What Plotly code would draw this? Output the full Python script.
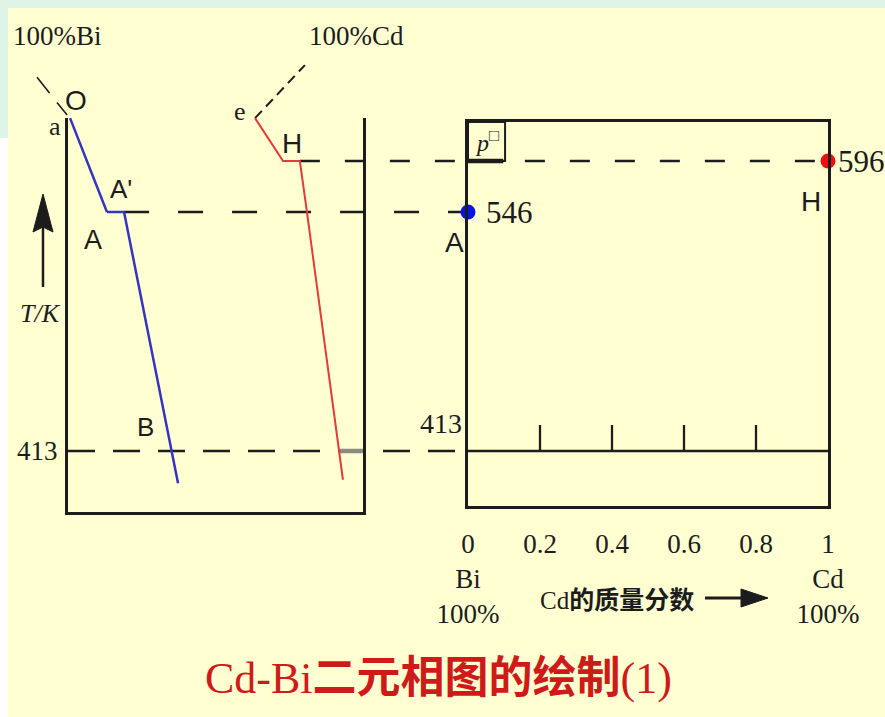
import plotly.graph_objects as go

W, H = 885, 717

# ---------------- data ----------------
T_EUTECTIC = 413          # K
T_MELT_BI = 546           # K
T_MELT_CD = 596           # K

# cooling curve of pure Bi (schematic time units)
bi_time = [0.07, 1.32, 1.90, 3.73]
bi_temp = [638, 546, 546, 395]
# cooling curve of pure Cd
cd_time = [6.34, 7.29, 7.86, 8.10, 9.32]
cd_temp = [638, 596, 596, 546, 397]

# leader lines of the "100%Bi" / "100%Cd" labels
bi_ptr_time = [-1.05, -0.03]
bi_ptr_temp = [678, 641]
cd_ptr_time = [6.34, 8.03]
cd_ptr_temp = [638, 690]

# grey piece of the Cd curve on the eutectic line
grey_time = [9.19, 10.0]

# phase diagram
comp_ticks = [0, 0.2, 0.4, 0.6, 0.8, 1]
comp_tick_labels = ["0<br>Bi<br>100%", "0.2", "0.4", "0.6", "0.8", "1<br>Cd<br>100%"]
inner_ticks = [0.2, 0.4, 0.6, 0.8]
melt_comp = [0, 1]
melt_temp = [T_MELT_BI, T_MELT_CD]
pbox_comp = 0.103

# ---------------- geometry / styles ----------------
TIME_PX0, PX_PER_TIME = 68, 29.5
COMP_PX = (468, 828)
LOWER_ANCH = ((413, 451), (546, 212))   # (T, pixel row) schematic scale below 546 K
UPPER_ANCH = ((546, 212), (596, 161))   # schematic scale above 546 K
LEFT_BOX = (68, 363, 118, 512)
RIGHT_BOX = (468, 828, 122, 506)

SERIF = "Liberation Serif, 'Noto Sans CJK SC', serif"
SANS = "Liberation Sans, Arial, sans-serif"
INK = "#1c1c1c"
BLUE = "#3434c0"
RED = "#e03c3c"
BG = "#ffffd2"
TEAL = "#ddf4e6"


def px_to_time(px):
    return (px - TIME_PX0) / PX_PER_TIME


def comp_to_px(c):
    return COMP_PX[0] + c * (COMP_PX[1] - COMP_PX[0])


def make_T(anch):
    (t0, p0), (t1, p1) = anch
    return lambda py: t0 + (py - p0) * (t1 - t0) / (p1 - p0)


lower_T = make_T(LOWER_ANCH)
upper_T = make_T(UPPER_ANCH)


def pxx(x):
    return x / W


def pxy(y):
    return 1 - y / H


fig = go.Figure()


def line(x, y, xa, ya, color=INK, width=2.5, dash="solid"):
    fig.add_trace(go.Scatter(x=x, y=y, xaxis=xa, yaxis=ya, mode="lines",
                             line=dict(color=color, width=width, dash=dash),
                             hoverinfo="skip", showlegend=False))


# empty helper traces so that the two frame subplots are created
for xa, ya in (("x3", "y3"), ("x5", "y5")):
    fig.add_trace(go.Scatter(x=[0.5], y=[0.5], xaxis=xa, yaxis=ya, mode="markers",
                             marker=dict(opacity=0, size=1), hoverinfo="skip",
                             showlegend=False))

# projection (dashed) lines
t_comp0 = px_to_time(comp_to_px(0))
t_comp1 = px_to_time(comp_to_px(1))
line([0, t_comp0 - 0.1], [T_EUTECTIC, T_EUTECTIC], "x", "y", dash="27px,18px")
line([bi_time[2], t_comp0], [T_MELT_BI, T_MELT_BI], "x", "y", dash="25px,29px")
line([cd_time[2], t_comp1], [T_MELT_CD, T_MELT_CD], "x", "y2", dash="20px,25px")
line(grey_time, [T_EUTECTIC, T_EUTECTIC], "x", "y", color="#8a8a80", width=4.5)

# leader lines
line(bi_ptr_time, bi_ptr_temp, "x", "y2", width=1.6, dash="20px,12px")
line(cd_ptr_time, cd_ptr_temp, "x", "y2", width=2, dash="10px,6px")

# cooling curves (split at 546 K between the two schematic scales)
ib = bi_temp.index(T_MELT_BI)
line(bi_time[:ib + 1], bi_temp[:ib + 1], "x", "y2", color=BLUE, width=2.5)
line(bi_time[ib:], bi_temp[ib:], "x", "y", color=BLUE, width=2.5)
ic = cd_temp.index(T_MELT_BI)
line(cd_time[:ic + 1], cd_temp[:ic + 1], "x2", "y2", color=RED, width=2)
line(cd_time[ic:], cd_temp[ic:], "x2", "y", color=RED, width=2)

# eutectic line with ticks in the phase diagram
tick_len = 26 * (LOWER_ANCH[1][0] - LOWER_ANCH[0][0]) / (LOWER_ANCH[0][1] - LOWER_ANCH[1][1])
tx, ty = [0, 1, None], [T_EUTECTIC, T_EUTECTIC, None]
for c in inner_ticks:
    tx += [c, c, None]
    ty += [T_EUTECTIC, T_EUTECTIC + tick_len, None]
line(tx, ty, "x3", "y", width=2.3)

# melting points
fig.add_trace(go.Scatter(x=melt_comp[:1], y=melt_temp[:1], xaxis="x3", yaxis="y",
                         mode="markers", cliponaxis=False,
                         marker=dict(color="#0a14e6", size=15), showlegend=False))
fig.add_trace(go.Scatter(x=melt_comp[1:], y=melt_temp[1:], xaxis="x3", yaxis="y2",
                         mode="markers", cliponaxis=False,
                         marker=dict(color="#ee1010", size=15), showlegend=False))

hidden = dict(visible=False, fixedrange=True)
frame = dict(showline=True, linecolor=INK, linewidth=2.5, showgrid=False,
             zeroline=False, ticks="", fixedrange=True, automargin=False)

fig.update_layout(
    width=W, height=H, autosize=False,
    margin=dict(l=0, r=0, t=0, b=0, pad=0, autoexpand=False),
    paper_bgcolor=BG, plot_bgcolor="rgba(0,0,0,0)",
    showlegend=False,
    xaxis=dict(domain=[0, 1], range=[px_to_time(0), px_to_time(W)], anchor="y", **hidden),
    xaxis2=dict(domain=[0, 1], range=[px_to_time(0), px_to_time(W)], anchor="y", **hidden),
    yaxis=dict(domain=[0, pxy(190)], range=[lower_T(H), lower_T(190)], anchor="x", **hidden),
    yaxis2=dict(domain=[pxy(232), 1], range=[upper_T(232), upper_T(0)], anchor="x", **hidden),
    # right box = phase diagram frame, composition axis
    xaxis3=dict(domain=[pxx(RIGHT_BOX[0]), pxx(RIGHT_BOX[1])], range=[0, 1], anchor="y3",
                mirror=True, tickvals=comp_ticks, ticktext=comp_tick_labels,
                ticklabelstandoff=12,
                tickfont=dict(family=SERIF, size=27, color=INK), **frame),
    yaxis3=dict(domain=[pxy(RIGHT_BOX[3]), pxy(RIGHT_BOX[2])], range=[0, 1], anchor="x3",
                mirror=True, showticklabels=False, **frame),
    # left box = cooling-curve frame (no top line)
    xaxis5=dict(domain=[pxx(LEFT_BOX[0]), pxx(LEFT_BOX[1])], range=[0, 1], anchor="y5",
                mirror=False, showticklabels=False, **frame),
    yaxis5=dict(domain=[pxy(LEFT_BOX[3]), pxy(LEFT_BOX[2])], range=[0, 1], anchor="x5",
                mirror=True, showticklabels=False, **frame),
)

shapes = [
    dict(type="rect", xref="paper", yref="paper", x0=0, x1=1, y0=pxy(8), y1=1,
         fillcolor=TEAL, line=dict(width=0), layer="below"),
    dict(type="rect", xref="paper", yref="paper", x0=0, x1=pxx(8), y0=pxy(138), y1=1,
         fillcolor=TEAL, line=dict(width=0), layer="below"),
    dict(type="rect", xref="paper", yref="paper", x0=0, x1=pxx(8), y0=0, y1=pxy(138),
         fillcolor="#ffffff", line=dict(width=0), layer="below"),
    # p box in the corner of the phase diagram
    dict(type="rect", xref="x3", yref="y2", x0=0, x1=pbox_comp, y0=T_MELT_CD,
         y1=upper_T(RIGHT_BOX[2]), line=dict(color=INK, width=2)),
    dict(type="line", xref="x3", yref="y2", x0=0, x1=pbox_comp - 0.005, y0=T_MELT_CD,
         y1=T_MELT_CD, line=dict(color=INK, width=4.5)),
    # T/K arrow
    dict(type="line", xref="paper", yref="paper", x0=pxx(43), x1=pxx(43), y0=pxy(287),
         y1=pxy(226), line=dict(color=INK, width=2.5)),
    dict(type="path", xref="paper", yref="paper",
         path=f"M{pxx(43)},{pxy(194)} L{pxx(33)},{pxy(232)} L{pxx(43)},{pxy(227)} L{pxx(53)},{pxy(232)} Z",
         fillcolor=INK, line=dict(color=INK, width=1)),
    # composition arrow
    dict(type="line", xref="paper", yref="paper", x0=pxx(705), x1=pxx(746), y0=pxy(598),
         y1=pxy(598), line=dict(color=INK, width=3)),
    dict(type="path", xref="paper", yref="paper",
         path=f"M{pxx(768)},{pxy(598)} L{pxx(741)},{pxy(589)} L{pxx(741)},{pxy(607)} Z",
         fillcolor=INK, line=dict(color=INK, width=1)),
]
fig.update_layout(shapes=shapes)


def lab(text, x, y, size, family=SERIF, color=INK):
    return dict(text=text, x=pxx(x), y=pxy(y), xref="paper", yref="paper",
                showarrow=False, xanchor="center", yanchor="middle",
                font=dict(size=size, family=family, color=color))


anns = [
    lab("100%Bi", 57, 36, 27),
    lab("100%Cd", 356, 36, 27),
    lab("O", 76, 101, 28, SANS),
    lab("a", 55, 127, 26),
    lab("e", 240, 111, 26),
    lab("H", 292, 143, 28, SANS),
    lab("A'", 121, 189, 26, SANS),
    lab("A", 93, 240, 27, SANS),
    lab("B", 145, 427, 26, SANS),
    lab("<i>T/K</i>", 40, 313, 26),
    lab("A", 454, 242, 28, SANS),
    lab("H", 811, 201, 28, SANS),
    lab("<i>p</i><sup>□</sup>", 487, 141, 24),
    lab("Cd<b>的质量分数</b>", 617, 600, 25),
    lab("Cd-Bi<b>二元相图的绘制</b>(1)", 438, 678, 44, color="#cf1a1a"),
    dict(text=str(T_EUTECTIC), x=0, y=T_EUTECTIC, xref="x", yref="y", showarrow=False,
         xanchor="right", yanchor="middle", xshift=-8, font=dict(size=27, family=SERIF, color=INK)),
    dict(text=str(T_EUTECTIC), x=0, y=T_EUTECTIC, xref="x3", yref="y", showarrow=False,
         xanchor="right", yanchor="bottom", xshift=-4, yshift=10, font=dict(size=28, family=SERIF, color=INK)),
    dict(text=str(T_MELT_BI), x=0, y=T_MELT_BI, xref="x3", yref="y", showarrow=False,
         xanchor="left", yanchor="middle", xshift=16, font=dict(size=31, family=SERIF, color=INK)),
    dict(text=str(T_MELT_CD), x=1, y=T_MELT_CD, xref="x3", yref="y2", showarrow=False,
         xanchor="left", yanchor="middle", xshift=8, font=dict(size=31, family=SERIF, color=INK)),
]
fig.update_layout(annotations=anns)

fig.write_html("out.html", config={"displayModeBar": False},
               post_script="document.body.style.margin='0px';document.body.style.padding='0px';")
